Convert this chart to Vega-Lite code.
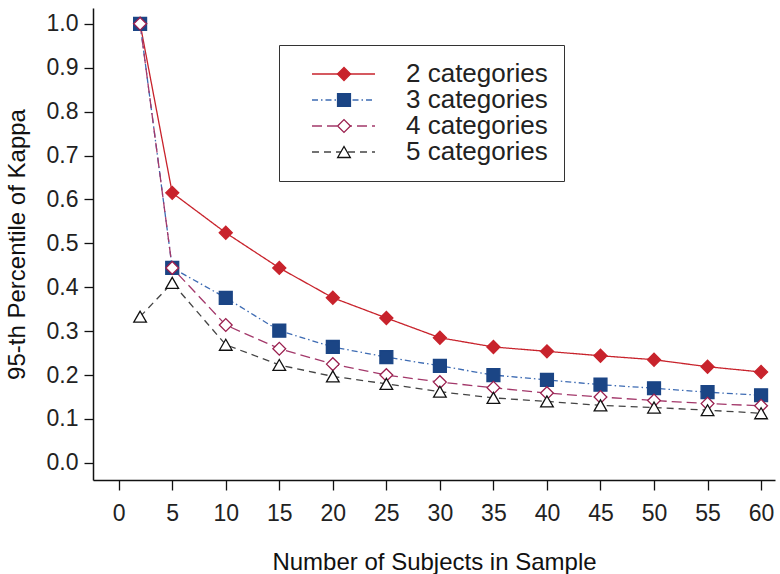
{
  "$schema": "https://vega.github.io/schema/vega-lite/v6.json",
  "autosize": {"type": "none"},
  "width": 682,
  "height": 472,
  "padding": {"left": 93, "top": 8, "right": 5, "bottom": 94},
  "background": "white",
  "config": {
    "view": {"stroke": null},
    "font": "Liberation Sans",
    "axis": {
      "grid": false,
      "domainColor": "#111",
      "domainWidth": 1.5,
      "tickColor": "#111",
      "tickWidth": 1.3,
      "labelColor": "#222",
      "titleColor": "#111",
      "labelFont": "Liberation Sans",
      "titleFont": "Liberation Sans",
      "titleFontWeight": "normal"
    }
  },
  "data": {
    "values": [
      {"n": 2, "kappa": 1.0, "series": "2 categories"},
      {"n": 5, "kappa": 0.615, "series": "2 categories"},
      {"n": 10, "kappa": 0.524, "series": "2 categories"},
      {"n": 15, "kappa": 0.444, "series": "2 categories"},
      {"n": 20, "kappa": 0.376, "series": "2 categories"},
      {"n": 25, "kappa": 0.33, "series": "2 categories"},
      {"n": 30, "kappa": 0.285, "series": "2 categories"},
      {"n": 35, "kappa": 0.264, "series": "2 categories"},
      {"n": 40, "kappa": 0.254, "series": "2 categories"},
      {"n": 45, "kappa": 0.244, "series": "2 categories"},
      {"n": 50, "kappa": 0.235, "series": "2 categories"},
      {"n": 55, "kappa": 0.219, "series": "2 categories"},
      {"n": 60, "kappa": 0.207, "series": "2 categories"},
      {"n": 2, "kappa": 1.0, "series": "3 categories"},
      {"n": 5, "kappa": 0.444, "series": "3 categories"},
      {"n": 10, "kappa": 0.376, "series": "3 categories"},
      {"n": 15, "kappa": 0.301, "series": "3 categories"},
      {"n": 20, "kappa": 0.264, "series": "3 categories"},
      {"n": 25, "kappa": 0.241, "series": "3 categories"},
      {"n": 30, "kappa": 0.221, "series": "3 categories"},
      {"n": 35, "kappa": 0.2, "series": "3 categories"},
      {"n": 40, "kappa": 0.189, "series": "3 categories"},
      {"n": 45, "kappa": 0.178, "series": "3 categories"},
      {"n": 50, "kappa": 0.17, "series": "3 categories"},
      {"n": 55, "kappa": 0.161, "series": "3 categories"},
      {"n": 60, "kappa": 0.154, "series": "3 categories"},
      {"n": 2, "kappa": 1.0, "series": "4 categories"},
      {"n": 5, "kappa": 0.444, "series": "4 categories"},
      {"n": 10, "kappa": 0.314, "series": "4 categories"},
      {"n": 15, "kappa": 0.26, "series": "4 categories"},
      {"n": 20, "kappa": 0.225, "series": "4 categories"},
      {"n": 25, "kappa": 0.2, "series": "4 categories"},
      {"n": 30, "kappa": 0.184, "series": "4 categories"},
      {"n": 35, "kappa": 0.171, "series": "4 categories"},
      {"n": 40, "kappa": 0.159, "series": "4 categories"},
      {"n": 45, "kappa": 0.15, "series": "4 categories"},
      {"n": 50, "kappa": 0.142, "series": "4 categories"},
      {"n": 55, "kappa": 0.135, "series": "4 categories"},
      {"n": 60, "kappa": 0.13, "series": "4 categories"},
      {"n": 2, "kappa": 0.333, "series": "5 categories"},
      {"n": 5, "kappa": 0.41, "series": "5 categories"},
      {"n": 10, "kappa": 0.269, "series": "5 categories"},
      {"n": 15, "kappa": 0.223, "series": "5 categories"},
      {"n": 20, "kappa": 0.197, "series": "5 categories"},
      {"n": 25, "kappa": 0.18, "series": "5 categories"},
      {"n": 30, "kappa": 0.162, "series": "5 categories"},
      {"n": 35, "kappa": 0.148, "series": "5 categories"},
      {"n": 40, "kappa": 0.14, "series": "5 categories"},
      {"n": 45, "kappa": 0.131, "series": "5 categories"},
      {"n": 50, "kappa": 0.126, "series": "5 categories"},
      {"n": 55, "kappa": 0.12, "series": "5 categories"},
      {"n": 60, "kappa": 0.113, "series": "5 categories"}
    ]
  },
  "encoding": {
    "x": {
      "field": "n",
      "type": "quantitative",
      "scale": {"domain": [-2.4, 61.3], "nice": false, "zero": false},
      "axis": {
        "title": "Number of Subjects in Sample",
        "values": [0, 5, 10, 15, 20, 25, 30, 35, 40, 45, 50, 55, 60],
        "tickSize": 10,
        "labelFontSize": 23,
        "labelPadding": 12,
        "labelFlush": false,
        "titleFontSize": 24,
        "titlePadding": 25
      }
    },
    "y": {
      "field": "kappa",
      "type": "quantitative",
      "scale": {"domain": [-0.039, 1.036], "nice": false, "zero": false},
      "axis": {
        "title": "95-th Percentile of Kappa",
        "values": [0, 0.1, 0.2, 0.3, 0.4, 0.5, 0.6, 0.7, 0.8, 0.9, 1.0],
        "format": ".1f",
        "tickSize": 9,
        "labelFontSize": 23,
        "labelPadding": 6,
        "labelFlush": false,
        "titleFontSize": 24,
        "titlePadding": 17
      }
    }
  },
  "layer": [
    {
      "mark": {"type": "line", "strokeWidth": 1.3},
      "encoding": {
        "color": {
          "field": "series",
          "type": "nominal",
          "scale": {
            "domain": ["2 categories", "3 categories", "4 categories", "5 categories"],
            "range": ["#c8232c", "#3d6bb3", "#a3386a", "#444444"]
          },
          "legend": {
            "title": null,
            "orient": "none",
            "legendX": 186,
            "legendY": 37,
            "symbolType": "stroke",
            "symbolSize": 3969,
            "symbolStrokeWidth": 1.3,
            "symbolOffset": 16,
            "clipHeight": 26,
            "rowPadding": 0,
            "padding": 16,
            "labelOffset": 30,
            "labelFontSize": 26,
            "labelColor": "#222",
            "strokeColor": "#333"
          }
        },
        "strokeDash": {
          "field": "series",
          "type": "nominal",
          "scale": {
            "domain": ["2 categories", "3 categories", "4 categories", "5 categories"],
            "range": [[1, 0], [6, 3, 1.5, 3], [10, 5], [7, 5]]
          },
          "legend": {
            "title": null,
            "orient": "none",
            "legendX": 186,
            "legendY": 37,
            "symbolType": "stroke",
            "symbolSize": 3969,
            "symbolStrokeWidth": 1.3,
            "symbolOffset": 16,
            "clipHeight": 26,
            "rowPadding": 0,
            "padding": 16,
            "labelOffset": 30,
            "labelFontSize": 26,
            "labelColor": "#222",
            "strokeColor": "#333"
          }
        }
      }
    },
    {
      "transform": [{"calculate": "datum.series", "as": "marker"}],
      "mark": {"type": "point", "filled": true, "strokeWidth": 1.3, "opacity": 1},
      "encoding": {
        "shape": {
          "field": "marker",
          "type": "nominal",
          "scale": {
            "range": ["diamond", "square", "diamond", "triangle-up"]
          },
          "legend": {
            "title": null,
            "orient": "none",
            "legendX": 238,
            "legendY": 53,
            "clipHeight": 26,
            "rowPadding": 0,
            "padding": 0,
            "labelFontSize": 26,
            "labelExpr": "''",
            "symbolStrokeWidth": 1.3,
            "symbolOpacity": 1
          }
        },
        "stroke": {
          "field": "marker",
          "type": "nominal",
          "scale": {
            "range": ["#c8232c", "#1b4585", "#9a1f4e", "#111111"]
          },
          "legend": {
            "title": null,
            "orient": "none",
            "legendX": 238,
            "legendY": 53,
            "clipHeight": 26,
            "rowPadding": 0,
            "padding": 0,
            "labelFontSize": 26,
            "labelExpr": "''",
            "symbolStrokeWidth": 1.3,
            "symbolOpacity": 1
          }
        },
        "fill": {
          "field": "marker",
          "type": "nominal",
          "scale": {
            "range": ["#c8232c", "#1b4585", "#ffffff", "#ffffff"]
          },
          "legend": {
            "title": null,
            "orient": "none",
            "legendX": 238,
            "legendY": 53,
            "clipHeight": 26,
            "rowPadding": 0,
            "padding": 0,
            "labelFontSize": 26,
            "labelExpr": "''",
            "symbolStrokeWidth": 1.3,
            "symbolOpacity": 1
          }
        },
        "size": {
          "field": "marker",
          "type": "nominal",
          "scale": {
            "range": [170, 160, 100, 130]
          },
          "legend": {
            "title": null,
            "orient": "none",
            "legendX": 238,
            "legendY": 53,
            "clipHeight": 26,
            "rowPadding": 0,
            "padding": 0,
            "labelFontSize": 26,
            "labelExpr": "''",
            "symbolStrokeWidth": 1.3,
            "symbolOpacity": 1
          }
        }
      }
    }
  ]
}
